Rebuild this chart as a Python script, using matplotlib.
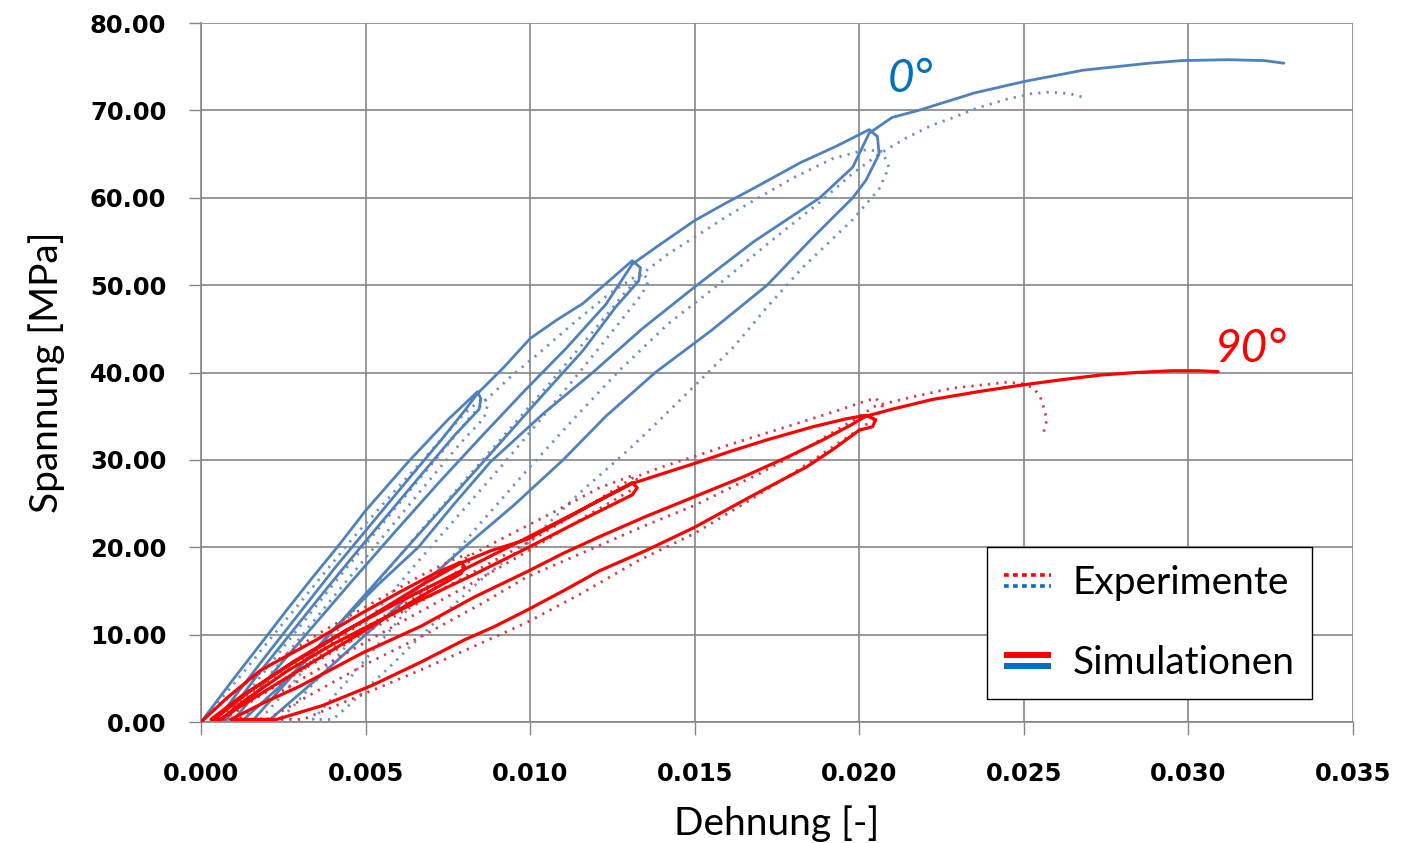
import matplotlib.pyplot as plt
from matplotlib.lines import Line2D
from matplotlib.legend_handler import HandlerBase
from matplotlib.ticker import FormatStrFormatter, MultipleLocator

# cyclic tensile tests, 0° and 90° orientation
# each path: loading, three unload/reload cycles, final loading

sim_0_strain = [
    0.0000, 0.0010, 0.0017, 0.0026, 0.0034, 0.0042, 0.0050, 0.0063, 0.0075, 0.0084,
    0.0085, 0.00845, 0.0077, 0.0068, 0.0058, 0.0048, 0.0038, 0.0028, 0.0018, 0.0010, 0.0008,
    0.0005, 0.0012, 0.0021, 0.0031, 0.0041, 0.0052, 0.0063, 0.0073, 0.0080, 0.0084,
    0.0092, 0.0100, 0.0108, 0.0116, 0.0124, 0.0131,
    0.01335, 0.0133, 0.0126, 0.0116, 0.0104, 0.0091, 0.0078, 0.0065, 0.0052, 0.0039, 0.0026, 0.0013,
    0.0010, 0.0020, 0.0033, 0.0046, 0.0059, 0.0072, 0.0085, 0.0098, 0.0111, 0.0123, 0.0131,
    0.0140, 0.0150, 0.0159, 0.0167, 0.0182, 0.0193, 0.0203,
    0.02055, 0.0206, 0.0202, 0.0198, 0.0186, 0.0172, 0.0155, 0.0138, 0.0123, 0.0110, 0.0095,
    0.0080, 0.0065, 0.0050, 0.0036, 0.0021,
    0.0016, 0.0027, 0.0040, 0.0054, 0.0066, 0.0077, 0.0088, 0.0104, 0.0119, 0.0134, 0.0150,
    0.0168, 0.0188, 0.0198, 0.0203,
    0.0210, 0.0218, 0.0235, 0.0250, 0.0268, 0.0288, 0.0298, 0.0312, 0.0323, 0.0329,
]
sim_0_stress = [
    0.0, 5.0, 8.4, 12.8, 16.6, 20.3, 24.2, 29.8, 34.6, 37.8,
    37.0, 35.8, 32.8, 28.8, 24.3, 19.8, 15.2, 10.5, 5.8, 1.8, 0.3,
    0.3, 3.8, 8.2, 13.0, 17.8, 22.8, 27.8, 32.3, 35.6, 37.6,
    40.6, 43.9, 46.0, 47.9, 50.5, 52.8,
    52.0, 50.5, 47.5, 42.5, 37.5, 32.0, 26.5, 21.0, 15.5, 10.0, 4.8, 0.3,
    0.3, 4.8, 10.5, 16.2, 21.8, 27.3, 32.6, 37.8, 42.8, 47.8, 52.4,
    54.8, 57.4, 59.3, 60.9, 64.0, 65.9, 67.8,
    67.0, 65.0, 62.0, 60.0, 55.5, 50.0, 44.8, 40.0, 35.0, 30.0, 24.8,
    20.0, 15.0, 10.0, 5.2, 0.3,
    0.3, 5.0, 10.5, 15.8, 20.0, 25.0, 29.8, 35.3, 40.0, 45.0, 49.8,
    55.0, 60.0, 63.5, 67.4,
    69.2, 70.0, 72.0, 73.3, 74.6, 75.4, 75.7, 75.8, 75.7, 75.4,
]

exp_0_strain = [
    0.0000, 0.0011, 0.0021, 0.0033, 0.0046, 0.0059, 0.0071, 0.0080, 0.0086,
    0.0087, 0.0086, 0.0079, 0.0069, 0.0057, 0.0045, 0.0033, 0.0021, 0.0013, 0.0010,
    0.0007, 0.0016, 0.0027, 0.0039, 0.0051, 0.0063, 0.0074, 0.0082, 0.0087,
    0.0094, 0.0102, 0.0113, 0.0124, 0.0134,
    0.0136, 0.0134, 0.0126, 0.0116, 0.0104, 0.0092, 0.0079, 0.0066, 0.0053, 0.0040, 0.0029, 0.0024,
    0.0018, 0.0028, 0.0041, 0.0054, 0.0067, 0.0080, 0.0093, 0.0106, 0.0118, 0.0128, 0.0134,
    0.0142, 0.0150, 0.0159, 0.0168, 0.0180, 0.0192, 0.0202, 0.0207,
    0.0209, 0.0206, 0.0198, 0.0183, 0.0172, 0.0162, 0.0150, 0.0140, 0.0130, 0.0115, 0.0100,
    0.0086, 0.0071, 0.0057, 0.0044, 0.0040,
    0.0034, 0.0044, 0.0057, 0.0071, 0.0085, 0.0099, 0.0113, 0.0127, 0.0142, 0.0157, 0.0173,
    0.0188, 0.0198, 0.0206,
    0.0214, 0.0222, 0.0228, 0.0236, 0.0245, 0.0252, 0.0258, 0.0264, 0.0268,
]
exp_0_stress = [
    0.0, 4.8, 9.5, 15.0, 21.0, 26.5, 31.5, 35.3, 37.2,
    36.2, 34.8, 32.0, 27.5, 22.0, 16.5, 11.0, 5.4, 1.6, 0.3,
    0.3, 4.2, 9.5, 15.2, 20.8, 26.3, 31.3, 35.0, 37.0,
    39.5, 42.0, 45.6, 49.0, 51.5,
    50.5, 49.0, 45.2, 40.5, 35.0, 29.6, 24.0, 18.4, 12.6, 6.9, 2.2, 0.3,
    0.3, 4.5, 10.3, 16.2, 22.0, 27.6, 33.2, 38.8, 44.2, 48.8, 51.3,
    53.6, 55.5, 57.7, 59.7, 62.3, 64.5, 65.5, 65.3,
    63.5, 61.0, 57.5, 52.1, 47.5, 43.0, 38.5, 34.8, 31.2, 26.2, 20.7,
    16.6, 11.4, 6.2, 1.6, 0.3,
    0.3, 4.5, 10.3, 16.6, 22.8, 28.8, 34.6, 40.2, 45.6, 50.0, 55.0,
    59.5, 62.8, 65.0,
    66.8, 68.3, 69.1, 70.3, 71.3, 71.9, 72.1, 71.9, 71.5,
]

sim_90_strain = [
    0.0000, 0.0008, 0.0018, 0.0035, 0.0049, 0.0060, 0.0071, 0.0079,
    0.0080, 0.0079, 0.0066, 0.0052, 0.0038, 0.0024, 0.0012, 0.0006,
    0.0003, 0.0012, 0.0025, 0.0040, 0.0055, 0.0068, 0.0079,
    0.0088, 0.0099, 0.0110, 0.0121, 0.0131,
    0.01325, 0.0131, 0.0115, 0.0099, 0.0083, 0.0068, 0.0054, 0.0040, 0.0026, 0.0013, 0.0006,
    0.0004, 0.0014, 0.0028, 0.0044, 0.0061, 0.0079, 0.0097, 0.0114, 0.0131,
    0.0140, 0.0150, 0.0161, 0.0172, 0.0186, 0.0196, 0.0202,
    0.0205, 0.0204, 0.0200, 0.0192, 0.0184, 0.0167, 0.0150, 0.0135, 0.0121, 0.0110, 0.0099,
    0.0089, 0.0080, 0.0067, 0.0052, 0.0037, 0.0023,
    0.0009, 0.0019, 0.0030, 0.0049, 0.0067, 0.0083, 0.0099, 0.0110, 0.0121, 0.0135, 0.0150,
    0.0165, 0.0178, 0.0189, 0.0197, 0.0202,
    0.0210, 0.0222, 0.0236, 0.0250, 0.0262, 0.0273, 0.0284, 0.0295, 0.0303, 0.0309,
]
sim_90_stress = [
    0.0, 2.8, 5.9, 9.4, 12.5, 14.8, 17.0, 18.3,
    17.8, 17.0, 14.2, 11.0, 7.8, 4.6, 1.8, 0.3,
    0.3, 2.9, 6.1, 9.5, 12.9, 15.9, 18.2,
    19.6, 20.9, 23.1, 25.4, 27.4,
    26.8, 26.0, 23.0, 19.9, 16.9, 14.2, 11.6, 8.9, 5.8, 2.4, 0.3,
    0.3, 3.3, 6.9, 10.5, 13.9, 17.3, 20.7, 24.0, 27.3,
    28.4, 29.6, 31.0, 32.3, 33.8, 34.7, 35.1,
    34.6, 33.8, 33.4, 31.2, 29.2, 25.8, 22.3, 19.6, 17.3, 15.0, 12.8,
    10.9, 9.4, 6.9, 4.2, 1.9, 0.3,
    0.3, 2.2, 4.1, 7.9, 11.0, 14.3, 17.2, 19.3, 21.2, 23.5, 25.8,
    28.1, 30.3, 32.3, 33.9, 35.0,
    35.8, 36.9, 37.8, 38.6, 39.2, 39.7, 40.0, 40.2, 40.2, 40.1,
]

exp_90_strain = [
    0.0000, 0.0010, 0.0022, 0.0037, 0.0052, 0.0066, 0.0076, 0.0081,
    0.0082, 0.0077, 0.0063, 0.0049, 0.0035, 0.0021, 0.0010, 0.0007,
    0.0004, 0.0016, 0.0030, 0.0045, 0.0060, 0.0073, 0.0081,
    0.0092, 0.0106, 0.0121, 0.0131,
    0.0133, 0.0131, 0.0115, 0.0099, 0.0081, 0.0063, 0.0046, 0.0030, 0.0017, 0.0011,
    0.0007, 0.0017, 0.0031, 0.0047, 0.0063, 0.0081, 0.0099, 0.0115, 0.0131,
    0.0140, 0.0150, 0.0161, 0.0172, 0.0183, 0.0193, 0.0200, 0.0205,
    0.0207, 0.0205, 0.0198, 0.0182, 0.0165, 0.0150, 0.0133, 0.0115, 0.0099, 0.0082, 0.0067,
    0.0050, 0.0031,
    0.0020, 0.0035, 0.0050, 0.0067, 0.0085, 0.0099, 0.0121, 0.0135, 0.0150, 0.0170, 0.0185,
    0.0198, 0.0205,
    0.0215, 0.0228, 0.0238, 0.0245, 0.0250, 0.0253, 0.0255, 0.0256, 0.0257, 0.0256,
]
exp_90_stress = [
    0.0, 3.4, 6.8, 10.4, 13.6, 16.6, 18.5, 19.2,
    18.5, 17.0, 13.8, 10.6, 7.3, 3.9, 1.2, 0.3,
    0.3, 3.4, 6.9, 10.4, 13.9, 17.0, 18.9,
    21.1, 23.8, 26.8, 28.2,
    27.6, 26.6, 23.1, 19.5, 15.6, 11.9, 8.3, 4.8, 1.8, 0.3,
    0.3, 2.8, 6.0, 9.6, 13.0, 16.8, 20.5, 24.1, 27.9,
    29.2, 30.4, 31.8, 33.1, 34.4, 35.6, 36.5, 37.1,
    36.1, 34.8, 33.0, 29.0, 25.0, 21.6, 18.5, 14.6, 11.4, 8.5, 6.0,
    3.3, 0.3,
    0.3, 3.5, 6.6, 9.8, 13.5, 16.6, 20.2, 22.5, 24.8, 28.5, 31.6,
    34.5, 36.2,
    37.1, 38.2, 38.6, 38.9, 38.7, 38.2, 37.2, 36.0, 34.6, 33.2,
]

BLUE = '#4f81bd'
BLUE_EXP = '#7090c0'
RED = '#ff0000'
RED_EXP = '#d23a48'
LEG_BLUE = '#0070c0'
GRID = '#868686'
DOTS = (0, (0.8, 2.2))

LABEL_FONT = ['Lato', 'DejaVu Sans']


class StackedLineHandler(HandlerBase):
    """Legend handle with a red line above a blue line."""

    def __init__(self, colors, **line_kw):
        super().__init__()
        self.colors = colors
        self.line_kw = line_kw

    def create_artists(self, legend, orig_handle, xdescent, ydescent,
                       width, height, fontsize, trans):
        artists = []
        mid = (height - ydescent) / 2
        for color, off in zip(self.colors, (0.2, -0.2)):
            y = mid + off * height
            artists.append(Line2D([-xdescent, width - xdescent], [y, y],
                                  color=color, transform=trans, **self.line_kw))
        return artists


fig = plt.figure(figsize=(14.03, 8.43), dpi=100)
ax = fig.add_axes([0.1433, 0.1435, 0.8211, 0.8292])

curve_kw = dict(solid_joinstyle='round', solid_capstyle='round')
ax.plot(exp_0_strain, exp_0_stress, color=BLUE_EXP, lw=2.0, ls=DOTS, zorder=3)
ax.plot(sim_0_strain, sim_0_stress, color=BLUE, lw=2.0, zorder=4, **curve_kw)
ax.plot(exp_90_strain, exp_90_stress, color=RED_EXP, lw=2.0, ls=DOTS, zorder=5)
ax.plot(sim_90_strain, sim_90_stress, color=RED, lw=2.3, zorder=6, **curve_kw)

ax.text(0.02087, 72.1, '0°', color=LEG_BLUE, fontsize=33, style='italic',
        family=LABEL_FONT, ha='left', va='baseline', zorder=7)
ax.text(0.0308, 41.2, '90°', color=RED, fontsize=33, style='italic',
        family=LABEL_FONT, ha='left', va='baseline', zorder=7)

ax.set_xlim(0, 0.035)
ax.set_ylim(0, 80)
ax.xaxis.set_major_locator(MultipleLocator(0.005))
ax.yaxis.set_major_locator(MultipleLocator(10))
ax.xaxis.set_major_formatter(FormatStrFormatter('%.3f'))
ax.yaxis.set_major_formatter(FormatStrFormatter('%.2f'))

ax.grid(True, color=GRID, lw=1.2)
ax.set_axisbelow(True)
for side in ('top', 'right'):
    ax.spines[side].set_visible(False)
for side in ('left', 'bottom'):
    ax.spines[side].set_color(GRID)
    ax.spines[side].set_linewidth(1.2)

ax.tick_params(axis='both', which='major', direction='out', length=9,
               width=1.0, color=GRID, labelsize=17.5)
ax.tick_params(axis='x', pad=20)
ax.tick_params(axis='y', pad=16)
for lab in ax.get_xticklabels() + ax.get_yticklabels():
    lab.set_fontweight('bold')

ax.set_xlabel('Dehnung [-]', fontsize=28, family=LABEL_FONT, labelpad=14)
ax.set_ylabel('Spannung [MPa]', fontsize=28, family=LABEL_FONT, labelpad=18)

h_exp = Line2D([], [])
h_sim = Line2D([], [])
leg = ax.legend(
    [h_exp, h_sim], ['Experimente', 'Simulationen'],
    handler_map={
        h_exp: StackedLineHandler([RED, LEG_BLUE], lw=2.6, ls=(0, (1.3, 1.2))),
        h_sim: StackedLineHandler([RED, LEG_BLUE], lw=4.3, solid_capstyle='butt'),
    },
    loc='lower left', bbox_to_anchor=(0.682, 0.033), borderaxespad=0,
    prop={'family': LABEL_FONT, 'size': 28},
    frameon=True, fancybox=False, framealpha=1, edgecolor='black',
    labelspacing=1.15, borderpad=0.45, handlelength=1.2, handletextpad=0.55,
)
leg.get_frame().set_linewidth(1.0)
leg.set_zorder(10)

fig.savefig('out.png', dpi=100)
